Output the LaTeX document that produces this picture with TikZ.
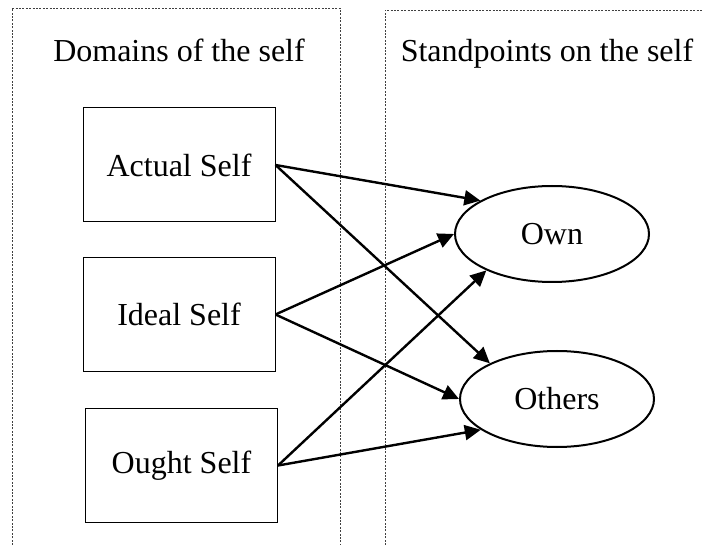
\documentclass[tikz,border=0pt]{standalone}
\usepackage{fontspec}
\setmainfont{Liberation Serif}
\usetikzlibrary{arrows.meta,shapes.geometric}
\begin{document}
\begin{tikzpicture}[x=0.5pt, y=-0.5pt,
  every node/.style={font=\fontsize{16}{19}\selectfont},
  panelline/.style={line width=0.45pt, black!75, dash pattern=on 1pt off 0.7pt},
  domainbox/.style={draw, line width=0.5pt, minimum width=96pt, minimum height=57pt, inner sep=0pt},
  standellipse/.style={draw, ellipse, line width=1pt, minimum width=97pt, minimum height=48pt, inner sep=0pt},
  linkarrow/.style={line width=1.2pt, -{Triangle[length=8pt, width=7.5pt]}}]
  \useasboundingbox (0,0) rectangle (702,545);

  % dotted panels
  \draw[panelline] (12,545) -- (12,8) -- (340,8) -- (340,545);
  \draw[panelline] (385,545) -- (385,10) -- (702,10);

  % panel titles
  \node[anchor=base] (t1) at (179,62) {Domains of the self};
  \node[anchor=base] (t2) at (547,62) {Standpoints on the self};

  % domains
  \node[domainbox] (actual) at (179,165) {Actual Self};
  \node[domainbox] (ideal) at (179,314.5) {Ideal Self};
  \node[domainbox] (ought) at (181.5,465.5) {Ought Self};

  % standpoints
  \node[standellipse] (own) at (552,234) {Own};
  \node[standellipse] (others) at (557,399) {Others};

  % connections
  \draw[linkarrow] (actual.east) -- (own.155);
  \draw[linkarrow] (actual.east) -- (others.152);
  \draw[linkarrow] (ideal.east) -- (own.180);
  \draw[linkarrow] (ideal.east) -- (others.180);
  \draw[linkarrow] (ought.east) -- (own.209);
  \draw[linkarrow] (ought.east) -- (others.202);
\end{tikzpicture}
\end{document}
